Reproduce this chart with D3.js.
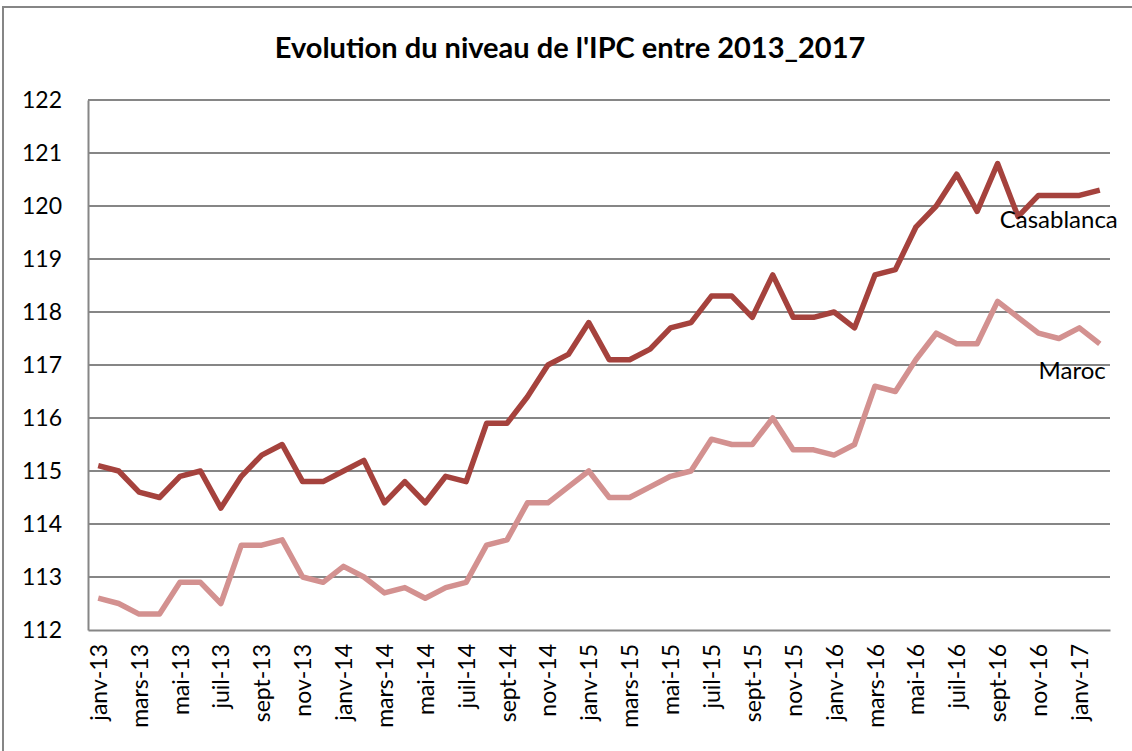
<!DOCTYPE html>
<html>
<head>
<meta charset="utf-8">
<script src="https://cdn.jsdelivr.net/npm/d3@7"></script>
<style>
  body { margin: 0; background: #fff; }
  svg { font-family: Lato, "Open Sans", sans-serif; }
</style>
</head>
<body>
<svg class="chart"></svg>
<script>
var months = ["janv", "févr", "mars", "avr", "mai", "juin", "juil", "août", "sept", "oct", "nov", "déc"];
var years = ["13", "14", "15", "16", "17"];

var casablanca = [
  115.1, 115.0, 114.6, 114.5, 114.9, 115.0, 114.3, 114.9, 115.3, 115.5, 114.8, 114.8,
  115.0, 115.2, 114.4, 114.8, 114.4, 114.9, 114.8, 115.9, 115.9, 116.4, 117.0, 117.2,
  117.8, 117.1, 117.1, 117.3, 117.7, 117.8, 118.3, 118.3, 117.9, 118.7, 117.9, 117.9,
  118.0, 117.7, 118.7, 118.8, 119.6, 120.0, 120.6, 119.9, 120.8, 119.8, 120.2, 120.2,
  120.2, 120.3
];

var maroc = [
  112.6, 112.5, 112.3, 112.3, 112.9, 112.9, 112.5, 113.6, 113.6, 113.7, 113.0, 112.9,
  113.2, 113.0, 112.7, 112.8, 112.6, 112.8, 112.9, 113.6, 113.7, 114.4, 114.4, 114.7,
  115.0, 114.5, 114.5, 114.7, 114.9, 115.0, 115.6, 115.5, 115.5, 116.0, 115.4, 115.4,
  115.3, 115.5, 116.6, 116.5, 117.1, 117.6, 117.4, 117.4, 118.2, 117.9, 117.6, 117.5,
  117.7, 117.4
];

var yTicks = [112, 113, 114, 115, 116, 117, 118, 119, 120, 121, 122];

// category labels: janv-13 ... févr-17
var categories = casablanca.map(function(d, i) {
  return months[i % 12] + "-" + years[Math.floor(i / 12)];
});

var width = 1132;
var height = 751;
var margin = { top: 100, right: 22, bottom: 121, left: 88 };

var svg = d3.select(".chart")
  .attr("width", width)
  .attr("height", height);

// outer frame
svg.append("rect")
  .attr("x", 3)
  .attr("y", 7)
  .attr("width", width + 10)
  .attr("height", height + 10)
  .attr("fill", "#fff")
  .attr("stroke", "#868686")
  .attr("stroke-width", 2);

var x = d3.scalePoint()
  .domain(categories)
  .range([margin.left, width - margin.right])
  .padding(0.5);

var y = d3.scaleLinear()
  .domain([112, 122])
  .range([height - margin.bottom, margin.top]);

// gridlines
svg.append("g")
  .selectAll("line")
  .data(yTicks.slice(1))
  .enter().append("line")
  .attr("x1", margin.left)
  .attr("x2", width - margin.right)
  .attr("y1", function(d) { return y(d); })
  .attr("y2", function(d) { return y(d); })
  .attr("stroke", "#868686")
  .attr("stroke-width", 2);

// axes
var yAxis = svg.append("g")
  .attr("transform", "translate(" + margin.left + ",0)")
  .call(d3.axisLeft(y).tickValues(yTicks).tickSize(0).tickPadding(26));
yAxis.select(".domain").attr("stroke", "#868686").attr("stroke-width", 2);
yAxis.selectAll("text")
  .attr("font-size", 23)
  .attr("fill", "#000")
  .attr("font-family", "Lato, sans-serif");

var xAxis = svg.append("g")
  .attr("transform", "translate(0," + y(112) + ")")
  .call(d3.axisBottom(x)
    .tickValues(categories.filter(function(d, i) { return i % 2 === 0; }))
    .tickSize(0));
xAxis.select(".domain").attr("stroke", "#868686").attr("stroke-width", 2);
xAxis.selectAll("text")
  .attr("font-size", 23)
  .attr("fill", "#000")
  .attr("font-family", "Lato, sans-serif")
  .attr("text-anchor", "end")
  .attr("dy", "0.35em")
  .attr("transform", "translate(0,14) rotate(-90)")
  .attr("x", 0)
  .attr("y", 0);

var line = d3.line()
  .x(function(d, i) { return x(categories[i]); })
  .y(function(d) { return y(d); });

svg.append("path")
  .datum(maroc)
  .attr("fill", "none")
  .attr("stroke", "#d39190")
  .attr("stroke-width", 5.5)
  .attr("stroke-linejoin", "round")
  .attr("d", line);

svg.append("path")
  .datum(casablanca)
  .attr("fill", "none")
  .attr("stroke", "#a5423d")
  .attr("stroke-width", 5.5)
  .attr("stroke-linejoin", "round")
  .attr("d", line);

// series labels
var last = categories.length - 1;
svg.append("text")
  .attr("x", x(categories[last]) + 18)
  .attr("y", y(casablanca[last]) + 38)
  .attr("text-anchor", "end")
  .attr("font-size", 24)
  .text("Casablanca");

svg.append("text")
  .attr("x", x(categories[last]) + 6)
  .attr("y", y(maroc[last]) + 35)
  .attr("text-anchor", "end")
  .attr("font-size", 24)
  .text("Maroc");

// title
svg.append("text")
  .attr("x", 570)
  .attr("y", 58)
  .attr("text-anchor", "middle")
  .attr("font-size", 29)
  .attr("font-weight", "bold")
  .text("Evolution du niveau de l'IPC entre 2013_2017");
</script>
</body>
</html>
